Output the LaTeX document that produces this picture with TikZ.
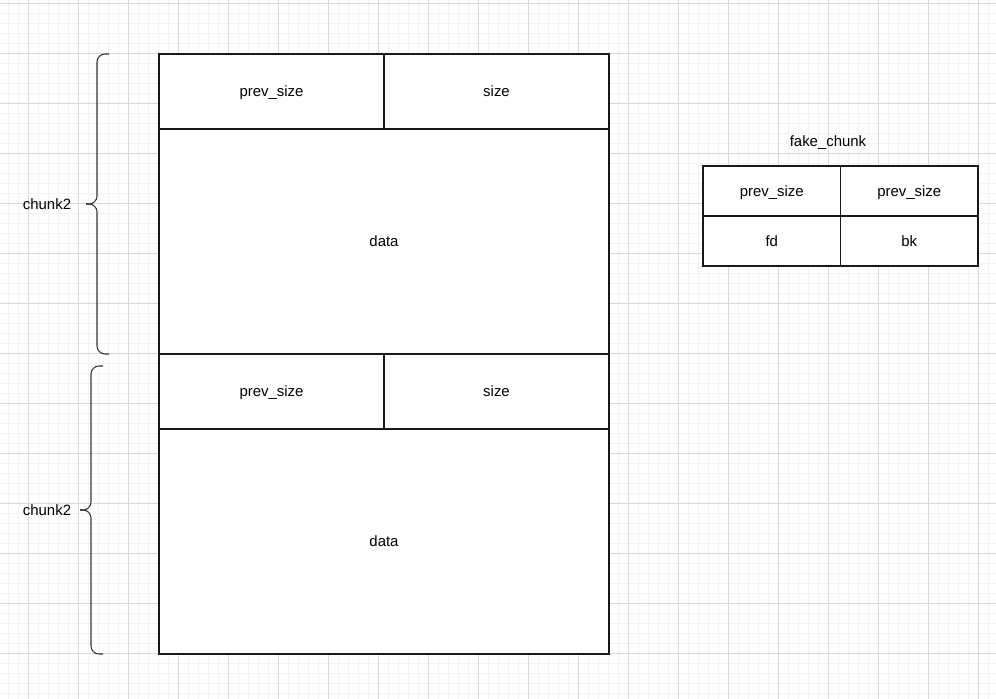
\documentclass[tikz,border=0pt]{standalone}
\usepackage{fontspec}
\setmainfont{Liberation Sans}

\tikzset{
  cell/.style={draw=black!90, line width=0.9pt, fill=white, inner sep=0pt,
    text height=9.5pt, text depth=1.6pt, font=\fontsize{11.2}{13.5}\selectfont},
  half cell/.style={cell, minimum width=168.75pt, minimum height=56.25pt},
  data cell/.style={cell, minimum width=337.5pt, minimum height=168.75pt},
  fake cell/.style={cell, minimum width=103.125pt, minimum height=37.5pt},
  brace line/.style={draw=black!80, line width=0.8pt, rounded corners=6},
  label text/.style={text height=9.5pt, text depth=1.6pt, font=\fontsize{11.2}{13.5}\selectfont}
}

\begin{document}
\begin{tikzpicture}[x=0.75pt, y=-0.75pt]

		\useasboundingbox (0,0) rectangle (996,699);

		% grid
		\foreach \gx in {8,18,...,988}
			\draw [black!5, line width=0.5pt] (\gx,0) -- (\gx,699);
		\foreach \gy in {3,13,...,693}
			\draw [black!5, line width=0.5pt] (0,\gy) -- (996,\gy);
		\foreach \gx in {28,78,...,978}
			\draw [black!15, line width=0.5pt] (\gx,0) -- (\gx,699);
		\foreach \gy in {3,53,...,653}
			\draw [black!15, line width=0.5pt] (0,\gy) -- (996,\gy);

		% chunks
		\foreach \c/\dy in {1/0,2/300}
		{
			\node [half cell] (prev-\c) at (271.5,91.5+\dy) {prev\_size};
			\node [half cell] (size-\c) at (496.5,91.5+\dy) {size};
			\node [data cell] (data-\c) at (384,241.5+\dy) {data};
		}

		% fake chunk
		\node [fake cell] (fake-prev-1) at (771.75,191) {prev\_size};
		\node [fake cell] (fake-prev-2) at (909.25,191) {prev\_size};
		\node [fake cell] (fake-fd) at (771.75,241) {fd};
		\node [fake cell] (fake-bk) at (909.25,241) {bk};
		\node [label text] (fake-title) at (828,141) {fake\_chunk};

		% braces
		\coordinate (brace1-top) at (109,54);
		\coordinate (brace1-tip) at (86,204);
		\coordinate (brace1-bot) at (109,354);
		\coordinate (brace2-top) at (103,366);
		\coordinate (brace2-tip) at (80,510);
		\coordinate (brace2-bot) at (103,654);

		\draw [brace line] (brace1-top) -- (97,54) -- (97,204) -- (brace1-tip);
		\draw [brace line] (brace1-tip) -- (97,204) -- (97,354) -- (brace1-bot);
		\draw [brace line] (brace2-top) -- (91,366) -- (91,510) -- (brace2-tip);
		\draw [brace line] (brace2-tip) -- (91,510) -- (91,654) -- (brace2-bot);

		\node [label text] (chunk-label-1) at (47,204) {chunk2};
		\node [label text] (chunk-label-2) at (47,510) {chunk2};

\end{tikzpicture}
\end{document}
